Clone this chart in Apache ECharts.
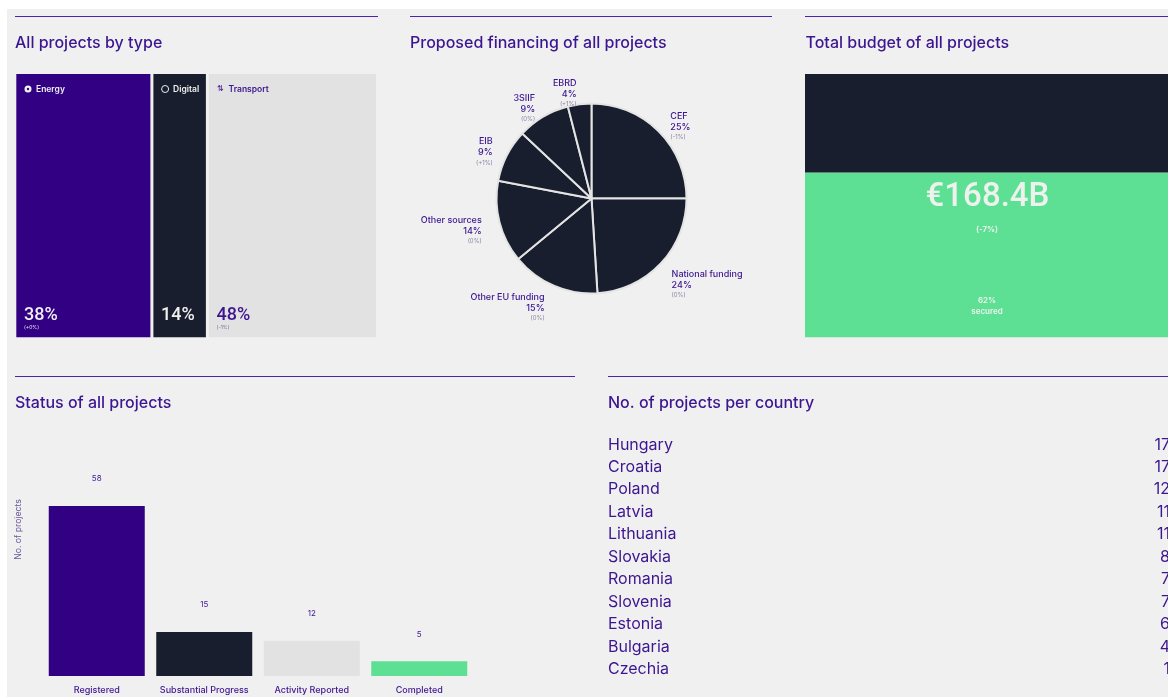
<!DOCTYPE html>
<html>
<head>
<meta charset="utf-8">
<title>Projects overview</title>
<style>
  html, body { margin: 0; height: 100%; background: #fff; overflow: hidden; }
  #chart { width: 1168px; height: 697px; }
</style>
<script src="https://cdn.jsdelivr.net/npm/echarts@6/dist/echarts.min.js"></script>
</head>
<body>
<div id="chart"></div>
<script>
const typeNames = ["Energy", "Digital", "Transport"];
const typeShares = [37.8, 15.3, 46.9];
const typeLabels = ["38%", "14%", "48%"];
const typeChanges = ["(+0%)", "", "(-1%)"];

const financeNames = ["CEF", "National funding", "Other EU funding", "Other sources", "EIB", "3SIIF", "EBRD"];
const financeValues = [25, 24, 15, 14, 9, 9, 4];
const financeChanges = ["(-1%)", "(0%)", "(0%)", "(0%)", "(+1%)", "(0%)", "(+1%)"];
// nudges the outside labels to where the original has them
const financeLabelDx = [-5, -6, 5, 1, 4, 7, 9];
const financeLabelDy = [1, 15, 14, 6, 0, -2, -3];

const budgetSecured = 62.6;
const budgetOpen = 37.4;
const budgetTotal = "€168.4B";
const budgetChange = "(-7%)";
const budgetSecuredLabel = "62%";

const statusNames = ["Registered", "Substantial Progress", "Activity Reported", "Completed"];
const statusValues = [58, 15, 12, 5];

const countryNames = ["Hungary", "Croatia", "Poland", "Latvia", "Lithuania", "Slovakia", "Romania", "Slovenia", "Estonia", "Bulgaria", "Czechia"];
const countryCounts = [17, 17, 12, 11, 11, 8, 7, 7, 6, 4, 1];

const INDIGO = "#320082";
const DARK = "#181e2d";
const LIGHT = "#e2e2e2";
const GREEN = "#5ee094";
const PANEL = "#f0f0f0";
const TEXT = "#3c1590";
const FONT = "Inter, sans-serif";

const typeColors = [INDIGO, DARK, LIGHT];
const typeInk = ["#f0f0f0", "#f0f0f0", TEXT];
const statusColors = [INDIGO, DARK, LIGHT, GREEN];

const rule = (x1, x2, y) => ({
  type: "line",
  shape: { x1, y1: y, x2, y2: y },
  style: { stroke: "#4f20b0", lineWidth: 1 },
});

const text = (x, y, value, font, fill, align) => ({
  type: "text",
  z: 10,
  x,
  y,
  style: { text: value, font, fill, align: align || "left", verticalAlign: "middle" },
});

const panelTitle = (text, left, top) => ({
  text,
  left,
  top,
  padding: 0,
  textStyle: { fontFamily: FONT, fontSize: 16, fontWeight: 500, color: TEXT },
});

// labels of the type panel follow the stacked bar segments
const typeGraphics = () => {
  const out = [];
  let start = 14.8;
  typeNames.forEach((name, i) => {
    const ink = typeInk[i];
    const iconX = start + 13.2;
    if (i === 0) {
      out.push({ type: "circle", z: 10, shape: { cx: iconX, cy: 89, r: 3.5 }, style: { fill: ink } });
      out.push({ type: "circle", z: 11, shape: { cx: iconX, cy: 89, r: 1.2 }, style: { fill: typeColors[i] } });
    } else if (i === 1) {
      out.push({ type: "circle", z: 10, shape: { cx: iconX, cy: 89, r: 3.5 }, style: { fill: "none", stroke: ink, lineWidth: 1 } });
    } else {
      out.push(text(iconX, 89, "⇅", "8px " + FONT, ink, "center"));
    }
    out.push(text(start + 21.2, 89, name, "600 8.5px " + FONT, ink));
    out.push(text(start + 9.2, 315.5, typeLabels[i], "500 18px Roboto, sans-serif", ink));
    if (typeChanges[i]) {
      out.push(text(start + 9.2, 327, typeChanges[i], "5px " + FONT, i === 2 ? "#77658f" : ink));
    }
    start += (362.7 * typeShares[i]) / 100;
  });
  return out;
};

const option = {
  backgroundColor: "#fff",
  animation: false,
  textStyle: { fontFamily: FONT },
  title: [
    panelTitle("All projects by type", 15, 35),
    panelTitle("Proposed financing of all projects", 410, 35),
    panelTitle("Total budget of all projects", 805.5, 35),
    panelTitle("Status of all projects", 15, 395),
    panelTitle("No. of projects per country", 608, 395),
  ],
  grid: [
    { left: 14.8, width: 362.7, top: 72.5, height: 266.3, outerBoundsMode: "none" },
    { left: 805, width: 363, top: 74, height: 263.3, outerBoundsMode: "none" },
    { left: 43, width: 430, top: 383, height: 293, outerBoundsMode: "none" },
    { left: 608, width: 560, top: 433.5, height: 247, outerBoundsMode: "none" },
  ],
  xAxis: [
    { gridIndex: 0, type: "value", min: 0, max: 100, show: false },
    { gridIndex: 1, type: "category", data: ["Budget"], show: false },
    {
      gridIndex: 2,
      type: "category",
      data: statusNames,
      axisLine: { show: false },
      axisTick: { show: false },
      axisLabel: { interval: 0, hideOverlap: false, fontFamily: FONT, fontSize: 9, fontWeight: 500, color: TEXT, margin: 10 },
    },
    { gridIndex: 3, type: "value", min: 0, max: 100, show: false },
  ],
  yAxis: [
    { gridIndex: 0, type: "category", data: ["Share"], show: false },
    { gridIndex: 1, type: "value", min: 0, max: 100, show: false },
    {
      gridIndex: 2,
      type: "value",
      min: 0,
      max: 100,
      name: "No. of projects",
      nameLocation: "middle",
      nameGap: 20,
      nameTextStyle: { fontFamily: FONT, fontSize: 8.7, color: "#6a5a9a" },
      axisLine: { show: false },
      axisTick: { show: false },
      axisLabel: { show: false },
      splitLine: { show: false },
    },
    {
      gridIndex: 3,
      type: "category",
      inverse: true,
      data: countryNames,
      axisLine: { show: false },
      axisTick: { show: false },
      axisLabel: { inside: true, margin: 0, fontFamily: FONT, fontSize: 16, color: TEXT },
    },
    {
      gridIndex: 3,
      type: "category",
      position: "right",
      offset: 2,
      inverse: true,
      data: countryCounts.map(String),
      axisLine: { show: false },
      axisTick: { show: false },
      axisLabel: { inside: true, margin: 0, fontFamily: FONT, fontSize: 16, color: TEXT },
    },
  ],
  series: [
    ...typeNames.map((name, i) => ({
      type: "bar",
      name,
      stack: "types",
      xAxisIndex: 0,
      yAxisIndex: 0,
      barWidth: "100%",
      data: [typeShares[i]],
      itemStyle: { color: typeColors[i], borderColor: PANEL, borderWidth: 1.5 },
    })),
    {
      type: "pie",
      center: [591.5, 198.5],
      radius: [0, 95],
      startAngle: 90,
      clockwise: true,
      avoidLabelOverlap: false,
      data: financeNames.map((name, i) => ({ name, value: financeValues[i] })),
      itemStyle: { color: DARK, borderColor: "#e4e4e4", borderWidth: 2 },
      labelLine: { show: false, length: 8, length2: 6 },
      labelLayout: (p) => ({ dx: financeLabelDx[p.dataIndex], dy: financeLabelDy[p.dataIndex] }),
      label: {
        position: "outside",
        formatter: (p) => `{n|${p.name}}\n{n|${p.value}%}\n{c|${financeChanges[p.dataIndex]}}`,
        rich: {
          n: { fontFamily: FONT, fontSize: 9, fontWeight: 500, color: TEXT, lineHeight: 11 },
          c: { fontFamily: FONT, fontSize: 6, color: "#8d82a5", lineHeight: 9 },
        },
      },
    },
    {
      type: "bar",
      name: "Secured",
      stack: "budget",
      xAxisIndex: 1,
      yAxisIndex: 1,
      barWidth: "100%",
      data: [budgetSecured],
      itemStyle: { color: GREEN },
    },
    {
      type: "bar",
      name: "Open",
      stack: "budget",
      xAxisIndex: 1,
      yAxisIndex: 1,
      barWidth: "100%",
      data: [budgetOpen],
      itemStyle: { color: DARK },
    },
    {
      type: "bar",
      name: "Status",
      xAxisIndex: 2,
      yAxisIndex: 2,
      barWidth: 96,
      data: statusValues.map((value, i) => ({ value, itemStyle: { color: statusColors[i] } })),
      label: {
        show: true,
        position: "top",
        distance: 23,
        fontFamily: FONT,
        fontSize: 8,
        color: TEXT,
      },
    },
    {
      // only there so the two label axes of the list get drawn
      type: "bar",
      name: "Countries",
      xAxisIndex: 3,
      yAxisIndex: 3,
      data: countryCounts,
      silent: true,
      itemStyle: { color: "transparent" },
    },
  ],
  graphic: [
    { type: "rect", z: -10, silent: true, shape: { x: 7, y: 9, width: 1161, height: 688 }, style: { fill: PANEL } },
    rule(15, 378, 16.5),
    rule(410, 772, 16.5),
    rule(805, 1168, 16.5),
    rule(15, 575, 376.5),
    rule(608, 1168, 376.5),
    ...typeGraphics(),
    text(987.5, 198, budgetTotal, "500 33px Roboto, sans-serif", "#eef2ee", "center"),
    text(987, 229.5, budgetChange, "600 8px " + FONT, "#eef2ee", "center"),
    text(987, 301, budgetSecuredLabel, "600 8px " + FONT, "#eef2ee", "center"),
    text(987, 312, "secured", "600 8px " + FONT, "#eef2ee", "center"),
  ],
};

const chart = echarts.init(document.getElementById("chart"));
chart.setOption(option);
window.addEventListener("resize", () => chart.resize());
</script>
</body>
</html>
